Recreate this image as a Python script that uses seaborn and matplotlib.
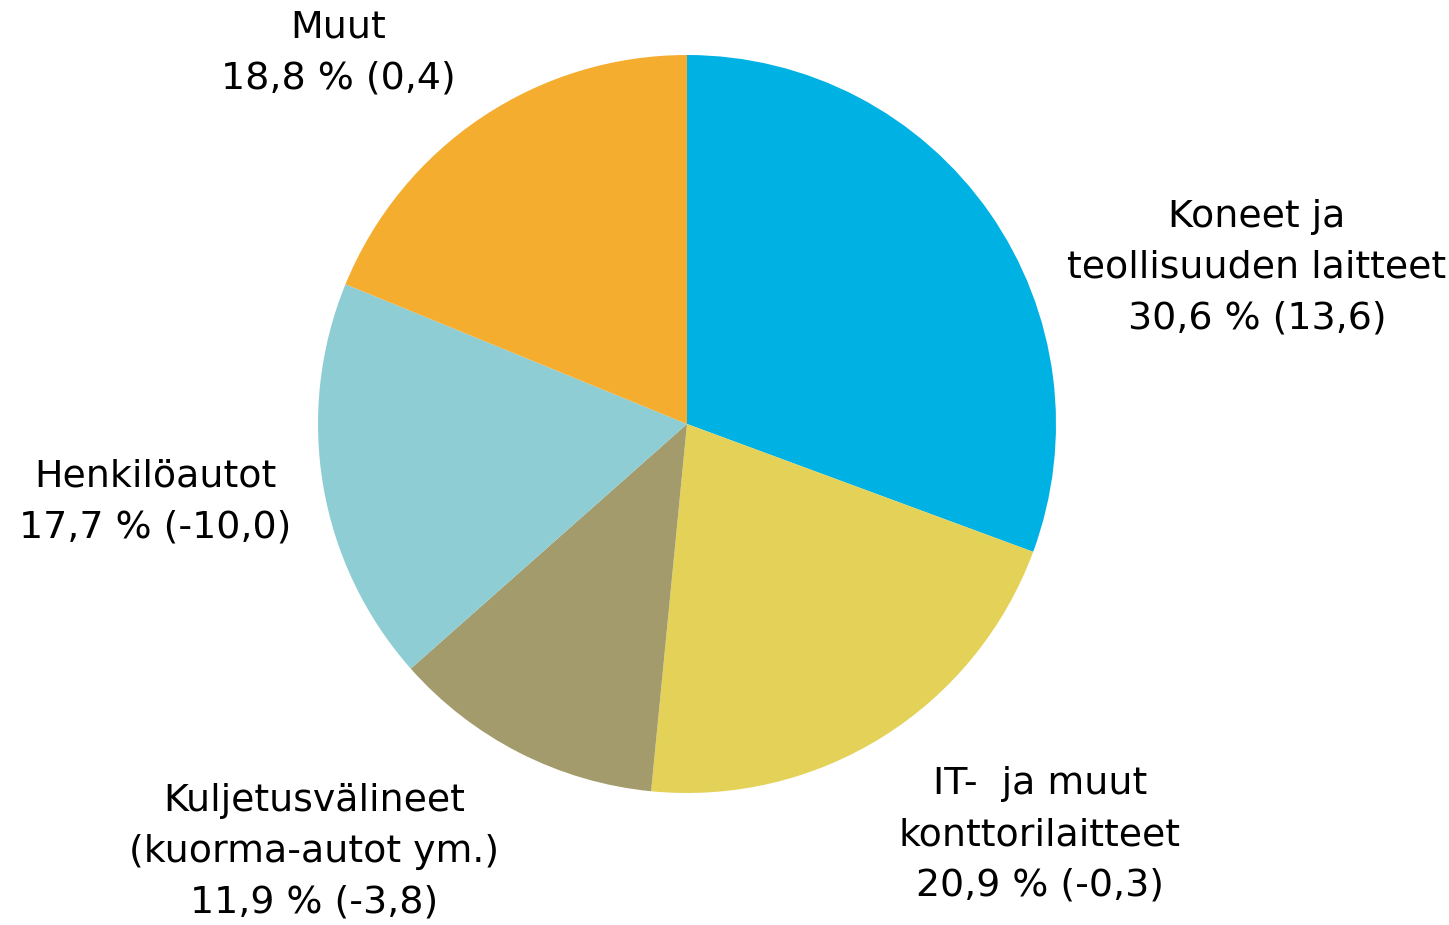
import matplotlib.pyplot as plt
import seaborn as sns

categories = [
    "Koneet ja\nteollisuuden laitteet",
    "IT-  ja muut\nkonttorilaitteet",
    "Kuljetusvälineet\n(kuorma-autot ym.)",
    "Henkilöautot",
    "Muut",
]
shares = [30.6, 20.9, 11.9, 17.7, 18.8]
changes = ["13,6", "-0,3", "-3,8", "-10,0", "0,4"]
colors = ["#00B2E3", "#E3D158", "#A39B6C", "#8ECDD4", "#F5AD2F"]

# label block centres in pixels (from top-left)
label_pos = [(1257, 268), (1040, 835), (314, 852), (155, 502), (338, 53)]

sns.set_theme(style="white")
plt.rcParams["font.family"] = ["DejaVu Sans"]

W, H = 1449, 925
fig = plt.figure(figsize=(W / 100, H / 100), dpi=100)
ax = fig.add_axes([0, 0, 1, 1])

ax.pie(
    shares,
    colors=colors,
    startangle=90,
    counterclock=False,
    center=(687, H - 424),
    radius=369,
    wedgeprops=dict(linewidth=0),
    frame=True,
)
ax.set_xlim(0, W)
ax.set_ylim(0, H)
ax.set_aspect("equal")
ax.axis("off")

for cat, s, c, (x, y) in zip(categories, shares, changes, label_pos):
    num = f"{s:.1f}".replace(".", ",")
    txt = f"{cat}\n{num} % ({c})"
    ax.text(x, H - y, txt, ha="center", va="center", fontsize=27.3,
            linespacing=1.53, color="black")

fig.savefig("out.png", dpi=100)
